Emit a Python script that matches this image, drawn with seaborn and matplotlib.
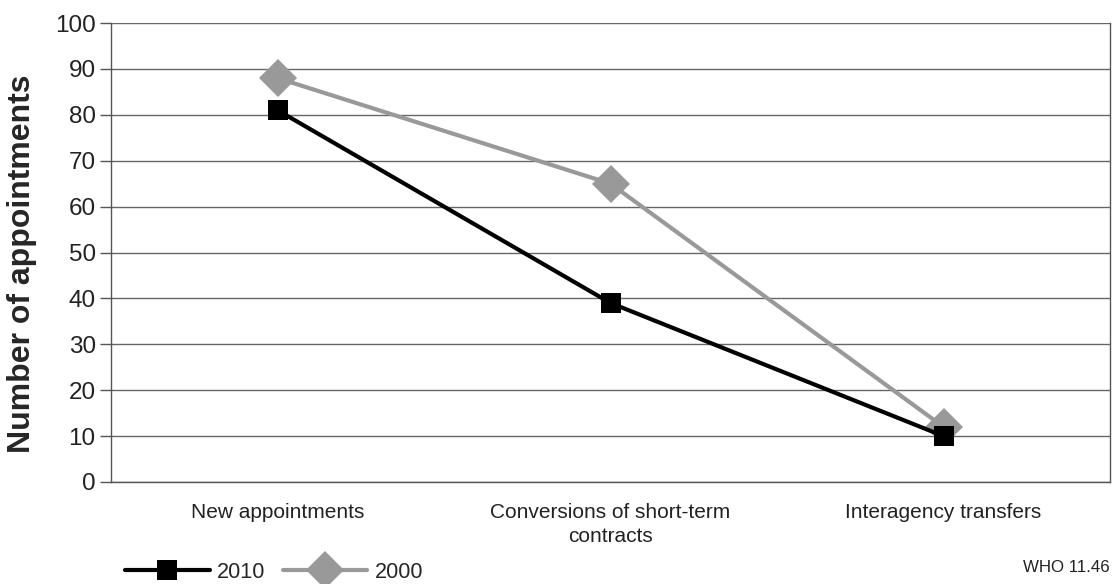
import matplotlib
matplotlib.use("Agg")
import matplotlib.pyplot as plt
import seaborn as sns
import pandas as pd

categories = ["New appointments", "Conversions of short-term\ncontracts", "Interagency transfers"]
values_2010 = [81, 39, 10]
values_2000 = [88, 65, 12]
series_names = ["2010", "2000"]
y_ticks = list(range(0, 101, 10))

sns.set_theme(style="white")
plt.rcParams['font.family'] = ['Liberation Sans', 'DejaVu Sans']

df = pd.DataFrame({
    "x": list(range(len(categories))) * 2,
    "value": values_2010 + values_2000,
    "series": [series_names[0]] * 3 + [series_names[1]] * 3,
})

fig = plt.figure(figsize=(11.16, 5.84), dpi=100)
ax = fig.add_axes([111/1116, 1 - 482/584, (1110-111)/1116, (482-23)/584])

palette = {"2010": "#000000", "2000": "#999999"}
markers = {"2010": "s", "2000": "D"}
sizes = {"2010": 15, "2000": 19}

for name in ["2000", "2010"]:
    sub = df[df["series"] == name]
    sns.lineplot(data=sub, x="x", y="value", ax=ax, color=palette[name],
                 marker=markers[name], markersize=sizes[name], linewidth=3,
                 markeredgewidth=0, label=name, zorder=3 if name == "2010" else 2)

ax.set_xlim(-0.5, 2.5)
ax.set_ylim(0, 100)
ax.set_yticks(y_ticks)
ax.set_yticklabels([str(t) for t in y_ticks], fontsize=17.5, color="#222222")
ax.set_xticks([-0.5, 0.5, 1.5, 2.5])
ax.set_xticklabels([])
ax.set_xticks([0, 1, 2], minor=True)
ax.set_xticklabels(categories, minor=True, fontsize=15, color="#222222", linespacing=1.35)
ax.tick_params(axis="x", which="minor", length=0, pad=15)
ax.tick_params(axis="x", which="major", length=8, width=1, color="#555555", direction="out")
ax.tick_params(axis="y", length=8, width=1, color="#555555", direction="out", pad=3, left=True)

ax.grid(axis="y", color="#666666", linewidth=1)
ax.set_axisbelow(True)
for side in ["left", "right", "bottom"]:
    ax.spines[side].set_visible(True)
    ax.spines[side].set_color("#555555")
    ax.spines[side].set_linewidth(1)
ax.spines["top"].set_visible(False)

ax.set_xlabel("")
ax.set_ylabel("Number of appointments", fontsize=23, fontweight="bold")
ax.yaxis.label.set_va("center")
ax.yaxis.set_label_coords((22 - 111) / 999, (482 - 264) / 459)

handles, labels = ax.get_legend_handles_labels()
order = [labels.index("2010"), labels.index("2000")]
ax.legend([handles[i] for i in order], [labels[i] for i in order],
          loc="center left", bbox_to_anchor=(14/999, (482 - 572) / 459), ncol=2, frameon=False,
          fontsize=15.6, handlelength=3.9, handletextpad=0.35, columnspacing=0.8,
          borderaxespad=0, borderpad=0)

fig.text(1110/1116, 1 - 567/584, "WHO 11.46", ha="right", va="center",
         fontsize=12.2, color="#222222")

fig.savefig("out.png", dpi=100, facecolor="white")
